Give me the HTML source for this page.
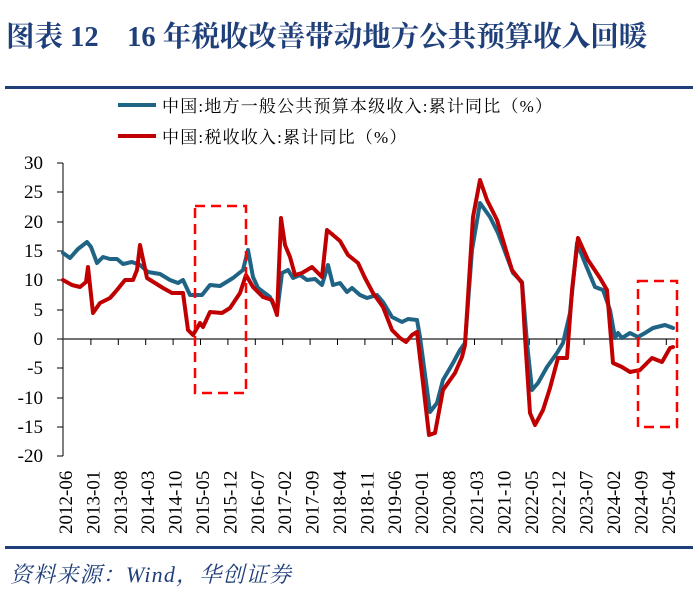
<!DOCTYPE html>
<html><head><meta charset="utf-8"><style>
body{margin:0;background:#fff;width:693px;height:602px;overflow:hidden}
svg{display:block}
</style></head><body>
<svg width="693" height="602" viewBox="0 0 693 602" xmlns="http://www.w3.org/2000/svg">
<text x="6" y="46" font-family="Liberation Serif,'Noto Serif CJK SC',serif" font-weight="bold" font-size="28.5" fill="#1f3f7a">图表 12　16 年税收改善带动地方公共预算收入回暖</text>
<rect x="5" y="86" width="688" height="3" fill="#1f3f7a"/>
<line x1="118" y1="105" x2="156" y2="105" stroke="#1f6484" stroke-width="4"/>
<text x="162" y="112" font-family="Liberation Serif,'Noto Serif CJK SC',serif" font-size="17" letter-spacing="1.2" fill="#000">中国:地方一般公共预算本级收入:累计同比（%）</text>
<line x1="118" y1="136" x2="156" y2="136" stroke="#c00000" stroke-width="4"/>
<text x="162" y="143" font-family="Liberation Serif,'Noto Serif CJK SC',serif" font-size="17" letter-spacing="1.2" fill="#000">中国:税收收入:累计同比（%）</text>
<g font-family="Liberation Serif,serif" font-size="19" fill="#000" text-anchor="end">
<text x="43" y="169">30</text><text x="43" y="198">25</text><text x="43" y="228">20</text><text x="43" y="257">15</text><text x="43" y="286">10</text><text x="43" y="316">5</text><text x="43" y="345">0</text><text x="43" y="374">-5</text><text x="43" y="404">-10</text><text x="43" y="433">-15</text><text x="43" y="462">-20</text>
</g>
<g stroke="#000" stroke-width="1">
<line x1="63" y1="163" x2="63" y2="456"/>
<line x1="57" y1="163" x2="63" y2="163"/><line x1="57" y1="192" x2="63" y2="192"/><line x1="57" y1="222" x2="63" y2="222"/><line x1="57" y1="251" x2="63" y2="251"/><line x1="57" y1="280" x2="63" y2="280"/><line x1="57" y1="310" x2="63" y2="310"/><line x1="57" y1="339" x2="63" y2="339"/><line x1="57" y1="368" x2="63" y2="368"/><line x1="57" y1="398" x2="63" y2="398"/><line x1="57" y1="427" x2="63" y2="427"/><line x1="57" y1="456" x2="63" y2="456"/>
</g>
<line x1="63" y1="339" x2="675" y2="339" stroke="#444" stroke-width="1.5"/>
<g stroke="#000" stroke-width="1">
<line x1="90.9" y1="339" x2="90.9" y2="345"/><line x1="118.3" y1="339" x2="118.3" y2="345"/><line x1="145.7" y1="339" x2="145.7" y2="345"/><line x1="173.1" y1="339" x2="173.1" y2="345"/><line x1="200.5" y1="339" x2="200.5" y2="345"/><line x1="227.9" y1="339" x2="227.9" y2="345"/><line x1="255.3" y1="339" x2="255.3" y2="345"/><line x1="282.7" y1="339" x2="282.7" y2="345"/><line x1="310.1" y1="339" x2="310.1" y2="345"/><line x1="337.5" y1="339" x2="337.5" y2="345"/><line x1="364.9" y1="339" x2="364.9" y2="345"/><line x1="392.3" y1="339" x2="392.3" y2="345"/><line x1="419.7" y1="339" x2="419.7" y2="345"/><line x1="447.1" y1="339" x2="447.1" y2="345"/><line x1="474.5" y1="339" x2="474.5" y2="345"/><line x1="501.9" y1="339" x2="501.9" y2="345"/><line x1="529.3" y1="339" x2="529.3" y2="345"/><line x1="556.7" y1="339" x2="556.7" y2="345"/><line x1="584.1" y1="339" x2="584.1" y2="345"/><line x1="611.5" y1="339" x2="611.5" y2="345"/><line x1="638.9" y1="339" x2="638.9" y2="345"/><line x1="666.3" y1="339" x2="666.3" y2="345"/>
</g>
<polyline fill="none" stroke="#1f6484" stroke-width="4" stroke-linejoin="round" stroke-linecap="round" points="63,253 70,258 78,249 87,242 91,247 97,263 103,257 110,259 117,259 123,264 132,262 140,265 148,272 160,274 170,280 178,283 183,280 190,295 202,295 210,285 220,286 233,278 243,270 248,250 253,277 258,288 270,297 277,313 282,273 288,270 293,278 300,275 307,280 315,279 322,285 328,265 333,285 340,283 347,292 352,288 360,295 367,298 377,295 383,302 392,317 402,322 408,319 417,320 420,337 430,412 437,403 443,380 453,363 460,350 465,343 472,250 480,203 490,217 498,233 507,257 513,273 522,282 527,343 532,390 538,383 547,367 557,353 563,343 570,313 577,243 585,263 595,287 603,290 610,310 615,338 618,333 622,338 630,333 638,337 645,333 653,328 665,325 673,328"/>
<polyline fill="none" stroke="#c00000" stroke-width="4" stroke-linejoin="round" stroke-linecap="round" points="63,280 72,285 80,287 86,282 88,267 93,313 100,303 110,298 117,290 125,280 133,280 137,270 140,245 147,278 155,283 163,288 172,293 183,293 188,330 193,335 200,323 203,327 210,312 222,313 230,308 240,293 246,275 253,287 263,297 272,300 277,315 281,218 285,245 290,257 295,275 302,273 312,267 322,277 327,230 333,235 340,241 348,255 358,263 365,278 373,293 383,307 392,330 400,338 406,342 412,335 417,332 423,383 429,435 435,433 443,390 455,373 462,357 465,345 473,217 480,180 487,200 497,220 505,247 512,270 522,283 525,337 530,413 535,425 543,410 550,388 558,358 567,358 572,290 578,238 588,260 600,278 607,290 613,363 622,367 630,372 640,370 652,358 662,362 670,348 673,347"/>
<rect x="195" y="206" width="51" height="187" fill="none" stroke="#ff0000" stroke-width="2.5" stroke-dasharray="10 6"/>
<rect x="638" y="281" width="39" height="146" fill="none" stroke="#ff0000" stroke-width="2.5" stroke-dasharray="10 6"/>
<g font-family="Liberation Serif,serif" font-size="19" fill="#000">
<text transform="translate(72,534) rotate(-90)">2012-06</text>
<text transform="translate(99.4,534) rotate(-90)">2013-01</text>
<text transform="translate(126.8,534) rotate(-90)">2013-08</text>
<text transform="translate(154.2,534) rotate(-90)">2014-03</text>
<text transform="translate(181.6,534) rotate(-90)">2014-10</text>
<text transform="translate(209,534) rotate(-90)">2015-05</text>
<text transform="translate(236.4,534) rotate(-90)">2015-12</text>
<text transform="translate(263.8,534) rotate(-90)">2016-07</text>
<text transform="translate(291.2,534) rotate(-90)">2017-02</text>
<text transform="translate(318.6,534) rotate(-90)">2017-09</text>
<text transform="translate(346,534) rotate(-90)">2018-04</text>
<text transform="translate(373.4,534) rotate(-90)">2018-11</text>
<text transform="translate(400.8,534) rotate(-90)">2019-06</text>
<text transform="translate(428.2,534) rotate(-90)">2020-01</text>
<text transform="translate(455.6,534) rotate(-90)">2020-08</text>
<text transform="translate(483,534) rotate(-90)">2021-03</text>
<text transform="translate(510.4,534) rotate(-90)">2021-10</text>
<text transform="translate(537.8,534) rotate(-90)">2022-05</text>
<text transform="translate(565.2,534) rotate(-90)">2022-12</text>
<text transform="translate(592.6,534) rotate(-90)">2023-07</text>
<text transform="translate(620,534) rotate(-90)">2024-02</text>
<text transform="translate(647.4,534) rotate(-90)">2024-09</text>
<text transform="translate(674.8,534) rotate(-90)">2025-04</text>
</g>
<rect x="5" y="546" width="688" height="3" fill="#1f3f7a"/>
<text x="10" y="582" font-family="Liberation Serif,'Noto Serif CJK SC',serif" font-style="italic" font-size="22" letter-spacing="1.2" fill="#1f3f7a">资料来源：Wind，华创证券</text>
</svg>
</body></html>
